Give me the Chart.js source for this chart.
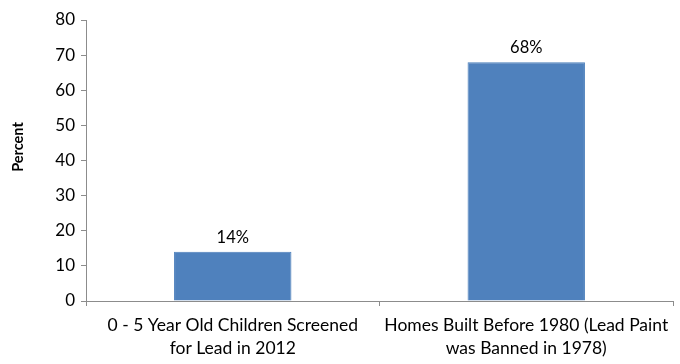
<!DOCTYPE html>
<html>
<head>
<meta charset="utf-8">
<script src="https://cdn.jsdelivr.net/npm/chart.js@4/dist/chart.umd.min.js"></script>
<style>
  html, body { margin: 0; padding: 0; background: #fff; }
  #wrap { width: 680px; height: 364px; }
</style>
</head>
<body>
<div id="wrap"><canvas id="leadChart" width="680" height="364"></canvas></div>
<script>
// categories and values
const categories = [
    ['0 - 5 Year Old Children Screened', 'for Lead in 2012'],
    ['Homes Built Before 1980 (Lead Paint', 'was Banned in 1978)']
];
const percentValues = [14, 68];
const yTicks = [0, 10, 20, 30, 40, 50, 60, 70, 80];

const FONT = 'Lato, "Open Sans", sans-serif';
const AXIS_GRAY = '#8c8c8c';

// value labels above each bar, plus the rotated axis title
const barLabels = {
    id: 'barLabels',
    afterDatasetsDraw(chart) {
        const ctx = chart.ctx;
        const meta = chart.getDatasetMeta(0);
        ctx.save();
        ctx.font = '16.5px ' + FONT;
        ctx.fillStyle = '#000';
        ctx.textAlign = 'center';
        ctx.textBaseline = 'bottom';
        meta.data.forEach((bar, i) => {
            ctx.fillText(percentValues[i] + '%', bar.x, bar.y - 6);
        });
        ctx.restore();

        // "Percent" sits a bit above the middle of the y axis
        ctx.save();
        ctx.translate(18, 147);
        ctx.rotate(-Math.PI / 2);
        ctx.font = 'bold 14.5px ' + FONT;
        ctx.fillStyle = '#000';
        ctx.textAlign = 'center';
        ctx.textBaseline = 'middle';
        ctx.fillText('Percent', 0, 0);
        ctx.restore();
    }
};

new Chart(document.getElementById('leadChart').getContext('2d'), {
    type: 'bar',
    data: {
        labels: categories,
        datasets: [{
            data: percentValues,
            backgroundColor: '#4f81bd',
            borderColor: '#4a7ebb',
            borderWidth: 1,
            categoryPercentage: 0.4,
            barPercentage: 1.0
        }]
    },
    options: {
        responsive: false,
        animation: false,
        layout: { padding: { top: 20, right: 7, left: 0, bottom: 0 } },
        plugins: { legend: { display: false }, tooltip: { enabled: false } },
        scales: {
            x: {
                grid: { display: true, drawOnChartArea: false, offset: true, color: AXIS_GRAY, tickLength: 5 },
                border: { color: AXIS_GRAY, width: 1 },
                ticks: { color: '#000', font: { family: FONT, size: 17.5, lineHeight: 1.3 }, maxRotation: 0, autoSkip: false, padding: 8 },
                afterFit(scale) { scale.height = 63; }
            },
            y: {
                min: 0,
                max: 80,
                afterBuildTicks(scale) { scale.ticks = yTicks.map(v => ({ value: v })); },
                grid: { display: true, drawOnChartArea: false, color: AXIS_GRAY, tickLength: 5 },
                border: { color: AXIS_GRAY, width: 1 },
                ticks: { color: '#000', font: { family: FONT, size: 17 }, padding: 6 },
                afterFit(scale) { scale.width = 86; }
            }
        }
    },
    plugins: [barLabels]
});
</script>
</body>
</html>
